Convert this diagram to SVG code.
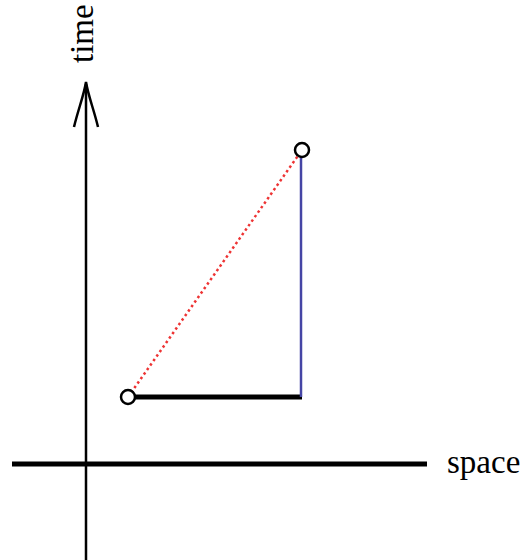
<svg xmlns="http://www.w3.org/2000/svg" width="522" height="560" viewBox="0 0 522 560">
<style>
.lbl{font-family:"Liberation Serif","DejaVu Serif",serif;font-size:33px;fill:#000}
.pt{fill:#fff;stroke:#000;stroke-width:2.5}
</style>
<g id="connectors" fill="none">
<line x1="86" y1="560" x2="86" y2="84" stroke="#000" stroke-width="2.5"/>
<path d="M74,127 C78,110 84,95 86,82 C88,95 94,110 98,127" stroke="#000" stroke-width="2.5"/>
<line x1="12" y1="464" x2="427" y2="464" stroke="#000" stroke-width="5"/>
<line x1="128" y1="397" x2="302" y2="397" stroke="#000" stroke-width="5"/>
<line x1="301" y1="157" x2="301" y2="397" stroke="#4545a5" stroke-width="2.5"/>
<line x1="128" y1="397" x2="302" y2="150" stroke="#ee3333" stroke-width="2.5" stroke-dasharray="2.5 3"/>
</g>
<g id="time-label"><text class="lbl" transform="translate(93,63) rotate(-90)">time</text></g>
<g id="space-label"><text class="lbl" x="447" y="473">space</text></g>
<g id="pointA"><circle class="pt" cx="128" cy="397" r="7"/></g>
<g id="pointB"><circle class="pt" cx="302" cy="150" r="7"/></g>
</svg>
